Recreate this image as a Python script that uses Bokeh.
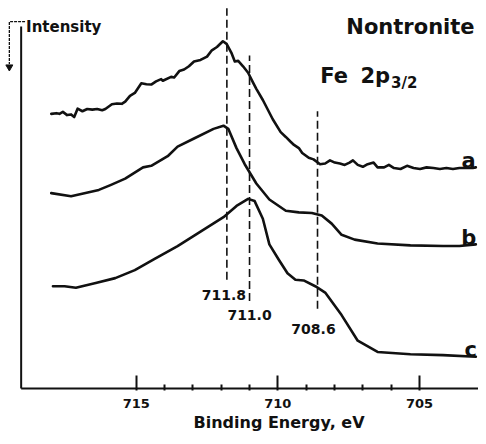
from bokeh.plotting import figure
from bokeh.models import Range1d, FixedTicker, Label, ColumnDataSource, Title
from bokeh.core.properties import value
from bokeh.embed import file_html
from bokeh.resources import INLINE

# ---------------- data ----------------
energy_a = [718.00, 717.82, 717.71, 717.59, 717.44, 717.30, 717.19, 717.07, 716.90, 716.73,
            716.55, 716.38, 716.20, 716.09, 715.86, 715.68, 715.51, 715.39, 715.22, 715.05,
            714.82, 714.64, 714.47, 714.30, 714.12, 714.06, 713.77, 713.66, 713.48, 713.31,
            713.14, 712.96, 712.73, 712.50, 712.33, 712.15, 711.94, 711.81, 711.63, 711.52,
            711.40, 711.23, 711.05, 710.88, 710.76, 710.53, 710.18, 709.90, 709.72, 709.55,
            709.43, 709.26, 709.14, 708.91, 708.74, 708.51, 708.33, 708.16, 707.99, 707.81,
            707.64, 707.47, 707.35, 707.18, 707.00, 706.83, 706.62, 706.48, 706.25, 706.08,
            705.90, 705.67, 705.44, 705.21, 704.98, 704.75, 704.51, 704.28, 704.05, 703.82,
            703.59, 703.36, 703.12, 703.01]
intensity_a = [60.3, 61, 60.3, 62.3, 59, 59.7, 57, 65.7, 63, 65.3,
               64.7, 65.3, 64, 65.3, 70.3, 71, 70.7, 73, 79, 82,
               92, 91, 90.7, 94, 96.3, 94.7, 98.7, 98, 104.7, 106.3,
               109.7, 114.7, 116.3, 119.7, 126.3, 129.7, 135.7, 133, 123, 114.7,
               115.3, 109.7, 103, 93, 86.3, 74.7, 54.7, 41.3, 36.3, 31.3,
               28, 24.7, 19.7, 14.7, 13, 8, 8.7, 12, 9.7, 8.7,
               7.3, 9.7, 12, 7.3, 5.3, 8, 9.7, 4.7, 4.7, 7.3,
               4, 3, 6.3, 4, 3, 4.7, 4, 3, 4, 3,
               4, 4, 4, 4.7]

energy_b = [718.00, 717.30, 716.32, 715.91, 715.39, 714.76, 714.47, 713.89, 713.54, 712.96,
            712.27, 711.92, 711.75, 711.46, 711.17, 710.76, 710.30, 709.72, 709.26, 708.80,
            708.45, 708.10, 707.75, 707.29, 706.48, 705.32, 704.17, 703.59, 703.01]
intensity_b = [58, 54.7, 61.3, 66.3, 73, 84.7, 86.3, 96.3, 106.3, 114.7,
               124.7, 128, 124.7, 104.7, 88, 68, 51.3, 39.7, 38, 37.3,
               34.7, 26.3, 14.7, 9.7, 5.7, 3.7, 3, 3, 4.7]

energy_c = [717.94, 717.53, 717.13, 716.43, 715.74, 715.05, 714.35, 713.54, 712.73, 711.92,
            711.46, 711.05, 710.82, 710.53, 710.30, 709.95, 709.66, 709.38, 709.09, 708.68,
            708.33, 707.75, 707.18, 706.48, 705.32, 704.17, 703.01]
intensity_c = [76.3, 76.3, 74.7, 79.7, 84.7, 93, 104.7, 118, 133, 148,
               159.7, 167, 164.7, 146.3, 119.7, 103, 89.7, 83, 82.3, 76.3,
               69.7, 46.3, 19.7, 8, 5.7, 4.7, 3]

series_names = ["a", "b", "c"]
series_offsets = [225, 145, 30]

peak_energies = [711.8, 711.0, 708.6]
peak_labels = ["711.8", "711.0", "708.6"]

major_ticks = [715, 710, 705]
minor_ticks = [714, 713, 712, 711, 709, 708, 707, 706]

# ---------------- layout helpers (reference pixel -> data) ----------------
def ex(px):
    return 710 + (282 - px) / 28.8

def iy(py):
    return 403 - py

W, H, BOTTOM = 478, 436, 46

FONT = "DejaVu Sans"
INK = "#111111"

p = figure(width=W, height=H, output_backend="svg", toolbar_location=None,
           x_range=Range1d(ex(0), ex(486)),
           y_range=Range1d(-2, 403),
           y_axis_location=None, min_border_left=0, min_border_right=0,
           min_border_top=0, min_border_bottom=BOTTOM)
p.outline_line_color = None
p.xgrid.visible = False
p.ygrid.visible = False
p.background_fill_color = "white"
p.border_fill_color = "white"

ax = p.xaxis[0]
ax.ticker = FixedTicker(ticks=major_ticks, minor_ticks=minor_ticks)
ax.axis_line_color = None
ax.major_tick_in = 15
ax.major_tick_out = 0
ax.minor_tick_in = 6
ax.minor_tick_out = 0
ax.major_tick_line_width = 2
ax.minor_tick_line_width = 2
ax.major_tick_line_color = INK
ax.minor_tick_line_color = INK
ax.major_label_text_font = FONT
ax.major_label_text_font_style = "bold"
ax.major_label_text_font_size = "13px"
ax.major_label_text_color = INK
ax.major_label_standoff = 8

# axis title placed off-centre, as in the reference
p.add_layout(Title(text="Binding Energy, eV", align="left", offset=193,
                   text_font=FONT, text_font_style="bold", text_font_size="16px",
                   text_color=INK, standoff=0), "below")

# axis lines (drawn from the left axis position)
left_e = ex(21)
p.segment(x0=[left_e, left_e], y0=[0, 0], x1=[ex(486), left_e], y1=[0, 376],
          line_color=INK, line_width=2)

# intensity bracket with downward arrow
p.line(x=[ex(25), ex(9), ex(9)], y=[iy(22), iy(22), iy(66)], line_color=INK,
       line_width=1.3, line_dash="3 1")
p.scatter(x=[ex(9)], y=[iy(69)], marker="inverted_triangle", size=7,
          fill_color=INK, line_color=INK)

# dashed peak markers
dash_top = [iy(8), iy(57), iy(115)]
dash_bot = [iy(290), iy(312), iy(320)]
p.segment(x0=peak_energies, y0=dash_bot, x1=peak_energies, y1=dash_top,
          line_color=INK, line_width=1.6, line_dash="8 4")

# spectra
curves = [(energy_a, intensity_a), (energy_b, intensity_b), (energy_c, intensity_c)]
for (e, inten), off in zip(curves, series_offsets):
    p.line(x=e, y=[v + off for v in inten], line_color=INK, line_width=2.6,
           line_join="round", line_cap="round")

# peak labels
lab_src = ColumnDataSource(dict(x=peak_energies, y=[iy(306), iy(327), iy(341)],
                                text=peak_labels, dx=[-3, 0, -4]))
p.text(x="x", y="y", text="text", x_offset="dx", source=lab_src,
       text_font=value(FONT), text_font_style="bold", text_font_size="14px",
       text_align="center", text_baseline="alphabetic", text_color=INK)

# series letters
let_src = ColumnDataSource(dict(x=[ex(476), ex(476), ex(478)],
                                y=[iy(167), iy(247), iy(363)], text=series_names))
p.text(x="x", y="y", text="text", source=let_src,
       text_font=value(FONT), text_font_style="bold", text_font_size="21px",
       text_align="center", text_baseline="alphabetic", text_color=INK)

def add_label(text, px, py, size, align="left"):
    p.add_layout(Label(x=ex(px), y=iy(py), text=text, text_font=FONT,
                       text_font_style="bold", text_font_size=size,
                       text_align=align, text_baseline="alphabetic",
                       text_color=INK))

add_label("Intensity", 26, 28, "15px")
add_label("Nontronite", 482, 27, "21px", align="right")
add_label("Fe", 325, 78, "21px")
add_label("2p", 366, 78, "21px")
add_label("3/2", 397, 86, "15px")

open("out.html", "w").write(file_html(p, INLINE))
